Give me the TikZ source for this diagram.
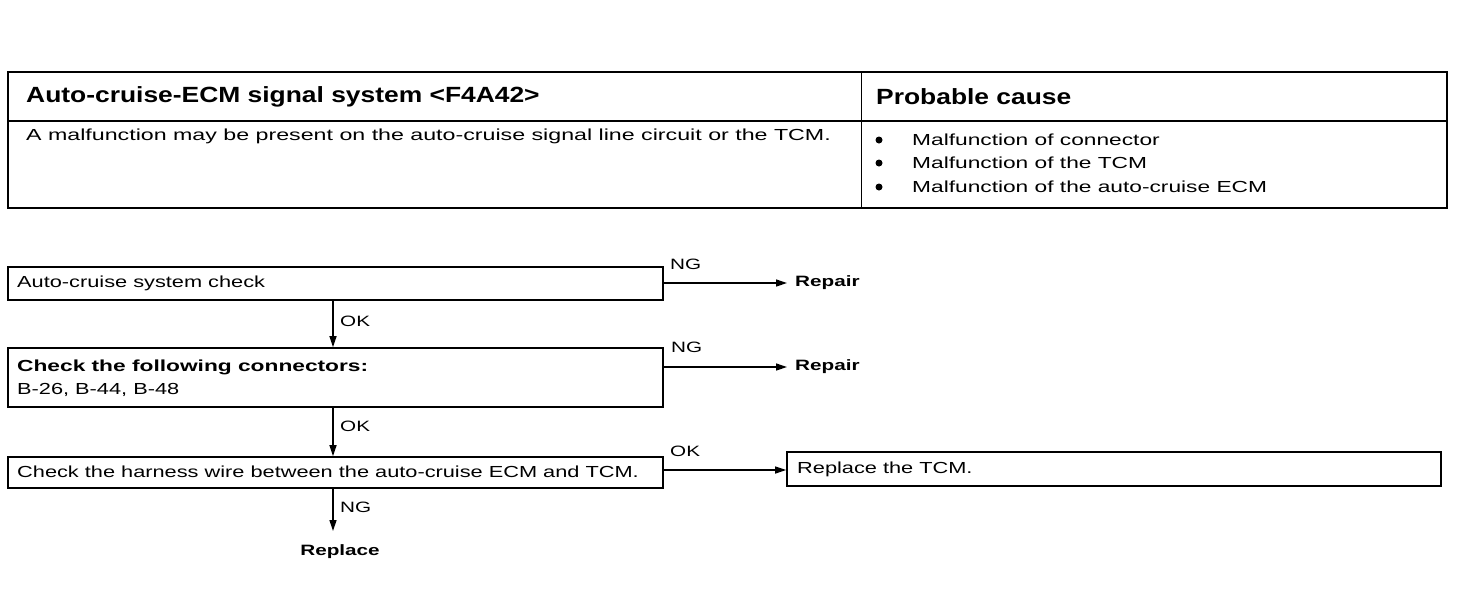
\documentclass[tikz,border=0pt]{standalone}
\usepackage{fontspec}
\setmainfont{Liberation Sans}
\newfontfamily\bodyf[FakeStretch=1.36]{Liberation Sans}
\newfontfamily\widef[FakeStretch=1.45]{Liberation Sans}
\newfontfamily\bulf[FakeStretch=1.42]{Liberation Sans}
\newfontfamily\headf[FakeStretch=1.2]{Liberation Sans}
\newfontfamily\labf[FakeStretch=1.38]{Liberation Sans}
\usetikzlibrary{arrows.meta}
\begin{document}
\begin{tikzpicture}[x=1pt,y=-1pt,
  txt/.style={anchor=west,inner sep=0pt,font=\bodyf\fontsize{16}{19}\selectfont},
  wtxt/.style={anchor=west,inner sep=0pt,font=\widef\fontsize{16}{19}\selectfont},
  bul/.style={anchor=west,inner sep=0pt,font=\bulf\fontsize{16}{19}\selectfont},
  btxt/.style={anchor=west,inner sep=0pt,font=\bulf\bfseries\fontsize{16}{19}\selectfont},
  rtxt/.style={anchor=west,inner sep=0pt,font=\labf\bfseries\fontsize{15}{18}\selectfont},
  head/.style={anchor=west,inner sep=0pt,font=\headf\bfseries\fontsize{22}{26}\selectfont},
  lbl/.style={anchor=west,inner sep=0pt,font=\labf\fontsize{15}{18}\selectfont},
  fbox/.style={draw,line width=1.6pt},
  conn/.style={line width=1.3pt,-{Triangle[length=11pt,width=7pt]}}]
\useasboundingbox (0,0) rectangle (1472,606);
% table
\draw[line width=2.6pt] (8,72) rectangle (1447,208);
\draw[line width=1.8pt] (8,121) -- (1447,121);
\draw[line width=1pt] (861,72) -- (861,208);
\node[head] (h1) at (26,97) {Auto-cruise-ECM signal system <F4A42>};
\node[head] (h2) at (876,97) {Probable cause};
\node[wtxt] (d1) at (26,136) {A malfunction may be present on the auto-cruise signal line circuit or the TCM.};
\node[bul] (c1) at (912,140) {Malfunction of connector};
\node[bul] (c2) at (912,163) {Malfunction of the TCM};
\node[bul] (c3) at (912,187) {Malfunction of the auto-cruise ECM};
\foreach \yy in {140,163,187} \fill (879,\yy) circle (3.5pt);
% flow boxes
\node[fbox,minimum width=655pt,minimum height=33pt,inner sep=0pt] (b1) at (335.5,283.5) {};
\node[txt] (t1) at (17,283.5) {Auto-cruise system check};
\node[fbox,minimum width=655pt,minimum height=59pt,inner sep=0pt] (b2) at (335.5,377.5) {};
\node[btxt] (t2a) at (17,367) {Check the following connectors:};
\node[txt] (t2b) at (17,390) {B-26, B-44, B-48};
\node[fbox,minimum width=655pt,minimum height=31pt,inner sep=0pt] (b3) at (335.5,472.5) {};
\node[txt] (t3) at (17,471.5) {Check the harness wire between the auto-cruise ECM and TCM.};
\node[fbox,minimum width=654pt,minimum height=34pt,inner sep=0pt] (b4) at (1114,469) {};
\node[txt] (t4) at (797,469) {Replace the TCM.};
\node[rtxt] (r1) at (795,283) {Repair};
\node[rtxt] (r2) at (795,367) {Repair};
\node[rtxt,anchor=center] (r3) at (340,552) {Replace};
\coordinate (e1) at (787,283);
\coordinate (e2) at (787,367);
\coordinate (e3) at (333,531);
% connectors
\draw[conn] (b1.east |- 0,283) -- (e1);
\draw[conn] (b2.east |- 0,367) -- (e2);
\draw[conn] (b3.east |- 0,470) -- (b4.west |- 0,470);
\draw[conn] (333,0 |- b1.south) -- (333,0 |- b2.north);
\draw[conn] (333,0 |- b2.south) -- (333,0 |- b3.north);
\draw[conn] (333,0 |- b3.south) -- (e3);
% labels
\node[lbl] (n1) at (670,264) {NG};
\node[lbl] (n2) at (671,347) {NG};
\node[lbl] (n3) at (670,451) {OK};
\node[lbl] (o1) at (340,321) {OK};
\node[lbl] (o2) at (340,426) {OK};
\node[lbl] (n4) at (340,507) {NG};
\end{tikzpicture}
\end{document}
